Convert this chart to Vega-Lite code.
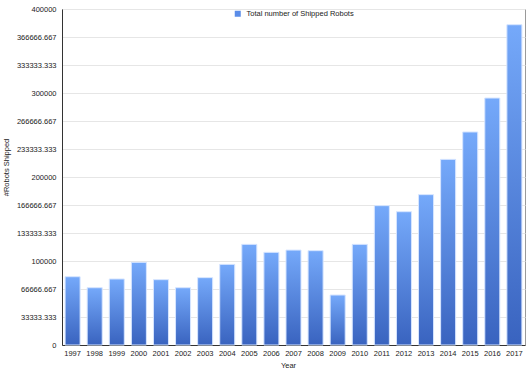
{
  "$schema": "https://vega.github.io/schema/vega-lite/v6.json",
  "autosize": "none",
  "width": 463,
  "height": 336,
  "padding": {"left": 62, "top": 9, "right": 1, "bottom": 26},
  "background": "white",
  "config": {
    "font": "Liberation Sans",
    "view": {"stroke": "#9a9a9a", "strokeWidth": 1},
    "axis": {"labelFont": "Liberation Sans", "titleFont": "Liberation Sans", "labelColor": "#222", "titleColor": "#222", "titleFontWeight": "normal"}
  },
  "data": {
    "values": [
      {"year": "1997", "robots": 81300},
      {"year": "1998", "robots": 68200},
      {"year": "1999", "robots": 78600},
      {"year": "2000", "robots": 98400},
      {"year": "2001", "robots": 77800},
      {"year": "2002", "robots": 68200},
      {"year": "2003", "robots": 80200},
      {"year": "2004", "robots": 96000},
      {"year": "2005", "robots": 119800},
      {"year": "2006", "robots": 110300},
      {"year": "2007", "robots": 113000},
      {"year": "2008", "robots": 112300},
      {"year": "2009", "robots": 59500},
      {"year": "2010", "robots": 119800},
      {"year": "2011", "robots": 165900},
      {"year": "2012", "robots": 158700},
      {"year": "2013", "robots": 179000},
      {"year": "2014", "robots": 221000},
      {"year": "2015", "robots": 253600},
      {"year": "2016", "robots": 294000},
      {"year": "2017", "robots": 381300}
    ]
  },
  "encoding": {
    "x": {
      "field": "year", "type": "ordinal",
      "scale": {"paddingInner": 0.32, "paddingOuter": 0.14},
      "axis": {"title": "Year", "labelAngle": 0, "labelFontSize": 7.5, "titleFontSize": 7.5, "tickSize": 0, "labelPadding": 4, "titlePadding": 5, "titleX": 226, "domainColor": "#333", "grid": false}
    },
    "y": {
      "field": "robots", "type": "quantitative",
      "scale": {"domain": [0, 400000], "nice": false},
      "axis": {
        "title": "#Robots Shipped",
        "values": [0, 33333.3333333, 66666.6666667, 100000, 133333.333333, 166666.666667, 200000, 233333.333333, 266666.666667, 300000, 333333.333333, 366666.666667, 400000],
        "format": ".3~f",
        "labelFontSize": 7.5, "titleFontSize": 7.5, "tickSize": 0, "labelPadding": 6, "titlePadding": 6, "titleY": 158,
        "domainColor": "#333", "gridColor": "#e6e6e6"
      }
    }
  },
  "layer": [
    {
      "mark": {
        "type": "bar",
        "fill": {"gradient": "linear", "x1": 0, "y1": 0, "x2": 0, "y2": 1, "stops": [{"offset": 0, "color": "#75a9fa"}, {"offset": 1, "color": "#3963bf"}]},
        "stroke": "#d6e5ff", "strokeWidth": 1
      }
    },
    {
      "mark": {"type": "point", "shape": "square", "filled": true, "opacity": 0},
      "encoding": {
        "color": {
          "datum": "Total number of Shipped Robots",
          "scale": {"range": ["#5a8ce8"]},
          "legend": {"title": null, "orient": "none", "legendX": 172, "legendY": 1, "padding": 0, "symbolType": "square", "symbolSize": 36, "symbolOpacity": 1, "symbolStrokeWidth": 0, "labelFontSize": 7.5, "labelFont": "Liberation Sans", "labelColor": "#222", "labelOffset": 5}
        }
      }
    }
  ]
}
